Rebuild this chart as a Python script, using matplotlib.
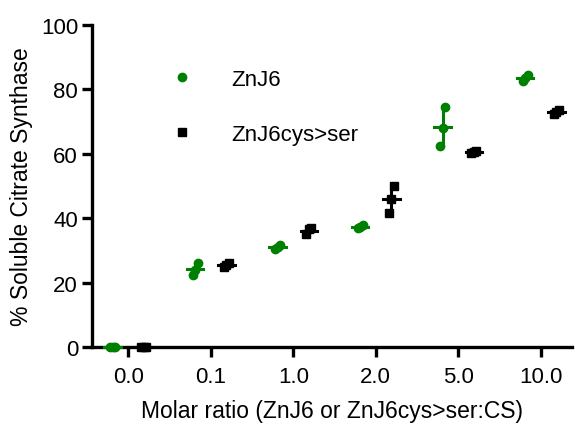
import numpy as np
import matplotlib.pyplot as plt

plt.rcParams['font.family'] = ['Liberation Sans', 'DejaVu Sans']

# Данные
ratios = ['0.0', '0.1', '1.0', '2.0', '5.0', '10.0']
znj6 = [[0, 0, 0], [22.5, 24, 26], [30.5, 31, 31.8], [37, 37.4, 37.8],
        [62.5, 68, 74.5], [82.5, 83.5, 84.5]]
znj6_mut = [[0, 0, 0], [25, 25.5, 26], [35, 36.5, 37], [41.5, 46, 50],
            [60.3, 60.6, 60.9], [72.5, 73, 73.6]]
jitter = [-0.03, 0.0, 0.03]

green = '#008000'
fig = plt.figure(figsize=(5.75, 4.27), dpi=100)
ax = fig.add_axes([0.16, 0.185, 0.835, 0.754])

x = np.arange(len(ratios))
for vals, off, col, mk, lab in [(znj6, -0.19, green, 'o', 'ZnJ6'),
                                (znj6_mut, 0.19, 'black', 's', 'ZnJ6cys>ser')]:
    for i, v in enumerate(vals):
        xs = x[i] + off + np.array(jitter)
        ax.plot(xs, v, linestyle='none', marker=mk, color=col, markersize=6,
                clip_on=False, zorder=3, label=lab if i == 0 else None)
        m, sd = np.mean(v), np.std(v, ddof=1)
        ax.plot([x[i] + off - 0.1, x[i] + off + 0.1], [m, m], color=col, lw=2.2,
                clip_on=False, zorder=4)
        ax.plot([x[i] + off, x[i] + off], [m - sd, m + sd], color=col, lw=2.2,
                clip_on=False, zorder=4)

ax.set_xlim(-0.44, 5.38)
ax.set_ylim(0, 100)
ax.set_xticks(x)
ax.set_xticklabels(ratios)
ax.set_yticks([0, 20, 40, 60, 80, 100])
for s in ['top', 'right']:
    ax.spines[s].set_visible(False)
for s in ['left', 'bottom']:
    ax.spines[s].set_linewidth(2.4)
ax.tick_params(width=2.4, length=7, labelsize=16)
ax.tick_params(axis='x', pad=7)
ax.tick_params(axis='y', pad=3)
ax.set_ylabel('% Soluble Citrate Synthase', fontsize=16.5, labelpad=6)
ax.set_xlabel('Molar ratio (ZnJ6 or ZnJ6cys>ser:CS)', fontsize=16.5, labelpad=8)

leg = ax.legend(loc='upper left', bbox_to_anchor=(0.1, 0.925), frameon=False,
                fontsize=16, handletextpad=1.2, labelspacing=1.5)
for h in leg.legend_handles:
    h.set_markersize(6)

plt.savefig('out.png')
